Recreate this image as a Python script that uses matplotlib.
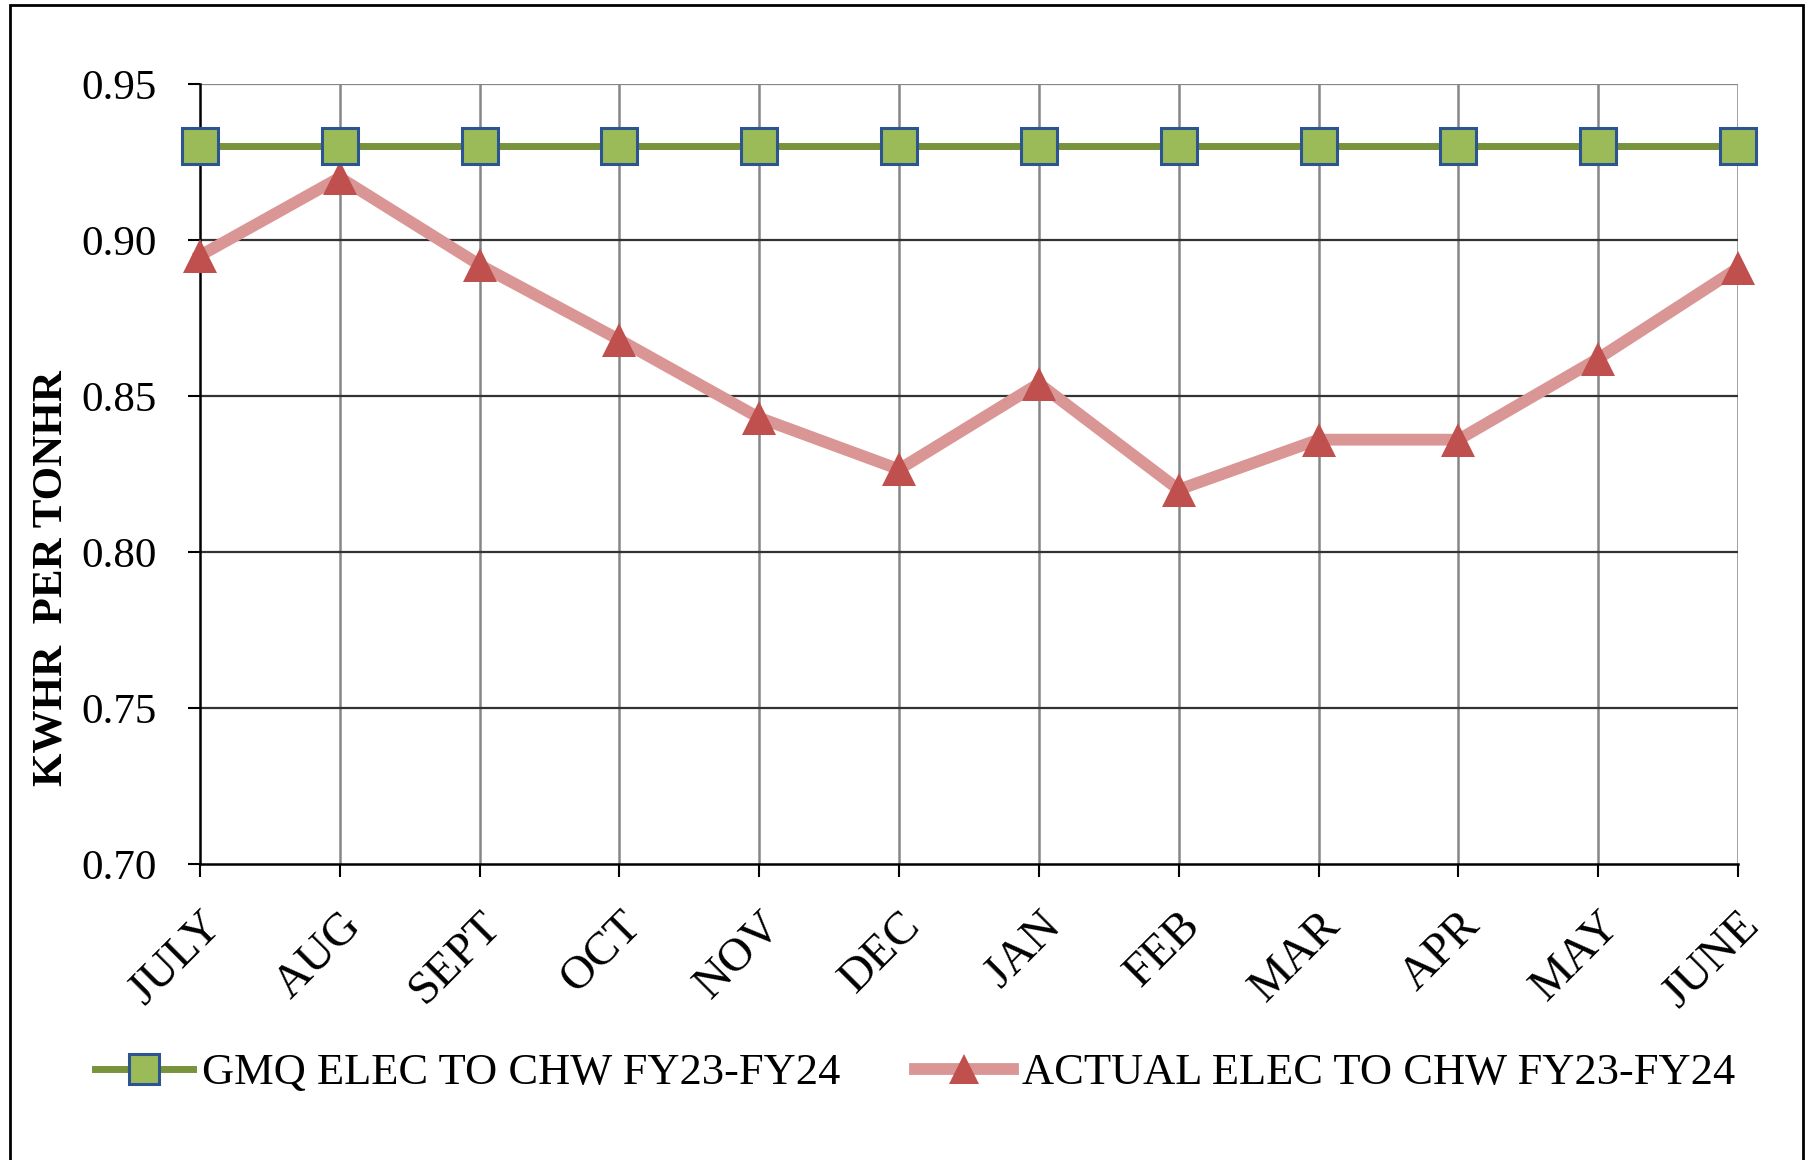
import numpy as np
import matplotlib
matplotlib.use("Agg")
import matplotlib.pyplot as plt
from matplotlib.patches import Rectangle

plt.rcParams["font.family"] = ["Liberation Serif", "DejaVu Serif"]

# data
months = ["JULY", "AUG", "SEPT", "OCT", "NOV", "DEC", "JAN", "FEB", "MAR", "APR", "MAY", "JUNE"]
gmq = [0.93, 0.93, 0.93, 0.93, 0.93, 0.93, 0.93, 0.93, 0.93, 0.93, 0.93, 0.93]
actual = [0.895, 0.920, 0.892, 0.868, 0.843, 0.8265, 0.854, 0.820, 0.836, 0.836, 0.862, 0.891]
yticks = [0.70, 0.75, 0.80, 0.85, 0.90, 0.95]

gmq_label = "GMQ ELEC TO CHW FY23-FY24"
actual_label = "ACTUAL ELEC TO CHW FY23-FY24"

fig = plt.figure(figsize=(18.05, 11.6), dpi=100)
ax = fig.add_axes([200 / 1805, 1 - 864 / 1160, (1738 - 200) / 1805, (864 - 84) / 1160])

x = np.arange(len(months))

ax.plot(x, gmq, color="#77933C", linewidth=5, marker="s", markersize=26,
        markerfacecolor="#9BBB59", markeredgecolor="#2C5491", markeredgewidth=2.2,
        label=gmq_label, zorder=4, clip_on=False)
ax.plot(x, actual, color="#D99694", linewidth=8.5, marker="^", markersize=25,
        markerfacecolor="#C0504D", markeredgecolor="#C0504D", markeredgewidth=0,
        label=actual_label, zorder=3, clip_on=False)

ax.set_xlim(0, len(months) - 1)
ax.set_ylim(0.70, 0.95)
ax.set_yticks(yticks)
ax.set_yticklabels([f"{v:.2f}" for v in yticks], fontsize=31)
ax.set_xticks(x)
ax.set_xticklabels(months, rotation=45, ha="right", va="top", rotation_mode="anchor",
                   fontsize=34)

# grid: vertical gray, horizontal dark
for xi in x[1:]:
    ax.axvline(xi, color="#868686", linewidth=1.8, zorder=1)
for yv in yticks[1:]:
    ax.axhline(yv, color="#868686" if yv == 0.95 else "#333333", linewidth=1.6, zorder=1)

ax.spines["top"].set_visible(False)
ax.spines["right"].set_visible(False)
ax.spines["left"].set_color("black")
ax.spines["bottom"].set_color("black")
ax.spines["left"].set_linewidth(1.8)
ax.spines["bottom"].set_linewidth(1.8)

ax.tick_params(axis="both", direction="out", length=9, width=1.5, color="black")
ax.tick_params(axis="y", pad=22)
ax.tick_params(axis="x", pad=20)

fig.text(52 / 1805, 1 - 578 / 1160, "KWHR  PER TONHR", rotation=90, ha="center", va="center",
         fontsize=31, fontweight="bold")

fig.legend(loc="center", bbox_to_anchor=(0.507, 1 - 1073 / 1160), ncol=2, frameon=False,
           fontsize=32, handlelength=2.2, handletextpad=0.2, columnspacing=1.7,
           markerscale=0.85)

# outer frame around the chart
fig.patches.append(Rectangle((10 / 1805, -0.05), (1803 - 10) / 1805, 1.05 - 5 / 1160,
                             transform=fig.transFigure, fill=False,
                             edgecolor="black", linewidth=2))

fig.savefig("out.png", dpi=100)
